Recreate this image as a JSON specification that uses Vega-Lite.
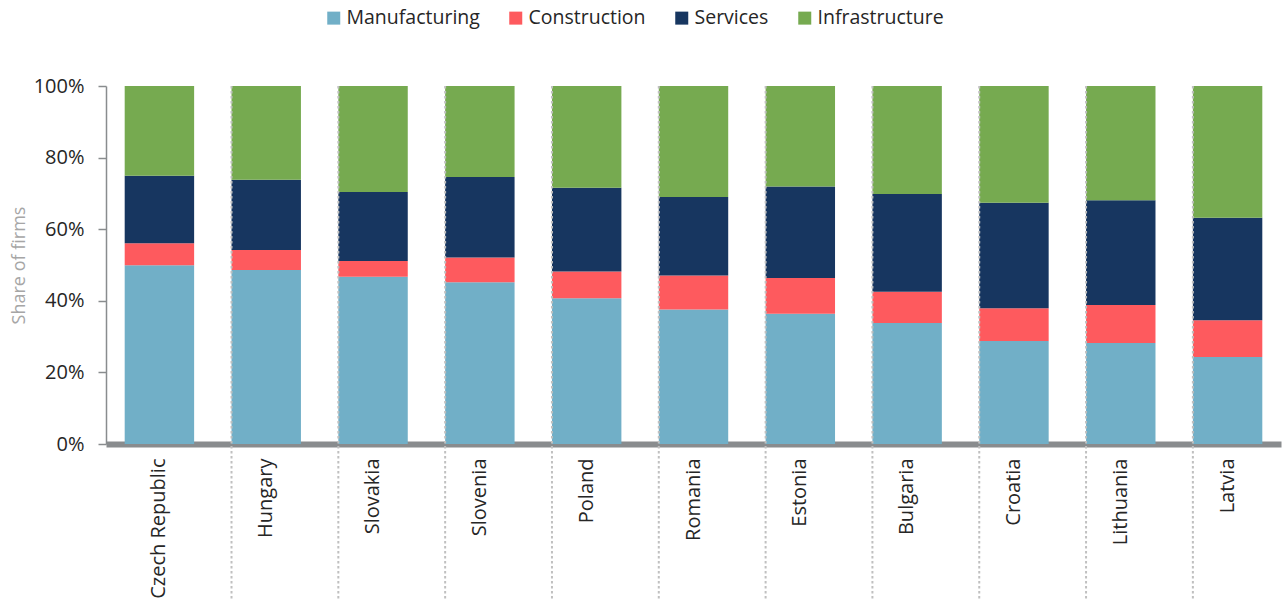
{
  "$schema": "https://vega.github.io/schema/vega-lite/v6.json",
  "width": 1175,
  "height": 358,
  "autosize": {"type": "none"},
  "padding": {"left": 106, "top": 86, "right": 4, "bottom": 159},
  "background": "white",
  "config": {
    "font": "Open Sans",
    "view": {"stroke": null}
  },
  "datasets": {
    "firms": [
      {"country": "Czech Republic", "Manufacturing": 49.9, "Construction": 6.2, "Services": 18.8, "Infrastructure": 25.1},
      {"country": "Hungary", "Manufacturing": 48.6, "Construction": 5.6, "Services": 19.6, "Infrastructure": 26.2},
      {"country": "Slovakia", "Manufacturing": 46.7, "Construction": 4.4, "Services": 19.3, "Infrastructure": 29.6},
      {"country": "Slovenia", "Manufacturing": 45.2, "Construction": 6.9, "Services": 22.5, "Infrastructure": 25.4},
      {"country": "Poland", "Manufacturing": 40.7, "Construction": 7.5, "Services": 23.4, "Infrastructure": 28.4},
      {"country": "Romania", "Manufacturing": 37.6, "Construction": 9.5, "Services": 21.9, "Infrastructure": 31.0},
      {"country": "Estonia", "Manufacturing": 36.4, "Construction": 10.0, "Services": 25.5, "Infrastructure": 28.1},
      {"country": "Bulgaria", "Manufacturing": 33.8, "Construction": 8.7, "Services": 27.3, "Infrastructure": 30.2},
      {"country": "Croatia", "Manufacturing": 28.8, "Construction": 9.1, "Services": 29.5, "Infrastructure": 32.6},
      {"country": "Lithuania", "Manufacturing": 28.2, "Construction": 10.6, "Services": 29.3, "Infrastructure": 31.9},
      {"country": "Latvia", "Manufacturing": 24.3, "Construction": 10.3, "Services": 28.6, "Infrastructure": 36.8}
    ]
  },
  "layer": [
    {
      "data": {"name": "firms"},
      "transform": [
        {"fold": ["Manufacturing", "Construction", "Services", "Infrastructure"], "as": ["sector", "value"]},
        {"window": [{"op": "row_number", "as": "k"}], "groupby": ["country"]}
      ],
      "mark": {"type": "bar"},
      "encoding": {
        "x": {
          "field": "country",
          "type": "nominal",
          "sort": null,
          "scale": {"paddingInner": 0.35, "paddingOuter": 0.175},
          "axis": {
            "title": null,
            "labelAngle": -90,
            "ticks": false,
            "domainColor": "#898c8e",
            "domainWidth": 6,
            "labelFontSize": 20,
            "labelColor": "#262626",
            "labelPadding": 14
          }
        },
        "y": {
          "field": "value",
          "type": "quantitative",
          "stack": "normalize",
          "scale": {"domain": [0, 1], "nice": false},
          "axis": {
            "title": "Share of firms",
            "titleColor": "#a6a6a6",
            "titleFontSize": 18,
            "titleFontWeight": "normal",
            "titlePadding": 5,
            "format": ".0%",
            "values": [0, 0.2, 0.4, 0.6, 0.8, 1],
            "grid": false,
            "domainColor": "#898c8e",
            "domainWidth": 1.5,
            "tickColor": "#898c8e",
            "tickWidth": 1.5,
            "tickSize": 8,
            "labelPadding": 14,
            "labelFontSize": 20,
            "labelColor": "#262626"
          }
        },
        "order": {"field": "k", "type": "quantitative", "sort": "ascending"},
        "color": {
          "field": "sector",
          "type": "nominal",
          "sort": ["Manufacturing", "Construction", "Services", "Infrastructure"],
          "scale": {
            "domain": ["Manufacturing", "Construction", "Services", "Infrastructure"],
            "range": ["#71afc7", "#fe5a5e", "#173660", "#76aa50"]
          },
          "legend": {
            "title": null,
            "orient": "none",
            "direction": "horizontal",
            "legendX": 218,
            "legendY": -78,
            "padding": 0,
            "symbolType": "square",
            "symbolSize": 169,
            "symbolStrokeWidth": 0,
            "symbolOpacity": 1,
            "columnPadding": 26,
            "labelOffset": 3,
            "labelFontSize": 19.5,
            "labelColor": "#262626"
          }
        }
      }
    },
    {
      "data": {"name": "firms"},
      "transform": [{"filter": "datum.country !== 'Czech Republic'"}],
      "mark": {"type": "rule", "color": "#c0c0c0", "strokeWidth": 2, "strokeDash": [2.5, 2.5]},
      "encoding": {
        "x": {"field": "country", "type": "nominal", "sort": null, "bandPosition": 0},
        "y": {"datum": 1},
        "y2": {"datum": -0.436}
      }
    }
  ]
}
